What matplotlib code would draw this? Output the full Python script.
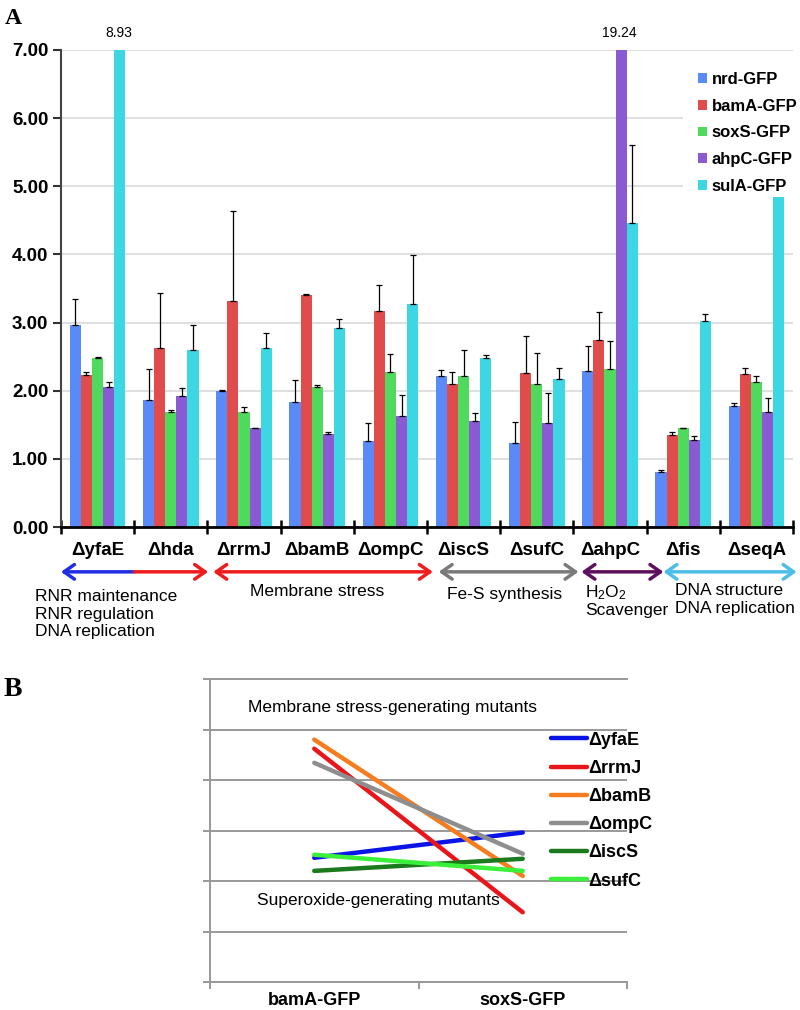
import numpy as np
import matplotlib
matplotlib.use('Agg')
import matplotlib.pyplot as plt
from matplotlib.patches import Patch

plt.rcParams['font.family'] = ['Liberation Sans', 'DejaVu Sans']
plt.rcParams['mathtext.fontset'] = 'custom'
plt.rcParams['mathtext.rm'] = 'Liberation Sans'
plt.rcParams['mathtext.it'] = 'Liberation Sans'

# panel A data (fold change, upper SD; nan = no error bar shown)
mutants = ['ΔyfaE', 'Δhda', 'ΔrrmJ', 'ΔbamB', 'ΔompC', 'ΔiscS', 'ΔsufC', 'ΔahpC', 'Δfis', 'ΔseqA']
reporters = ['nrd-GFP', 'bamA-GFP', 'soxS-GFP', 'ahpC-GFP', 'sulA-GFP']
nrd = [2.96, 1.87, 2.00, 1.84, 1.26, 2.21, 1.24, 2.29, 0.81, 1.77]
bamA = [2.23, 2.63, 3.31, 3.40, 3.17, 2.10, 2.26, 2.75, 1.35, 2.25]
soxS = [2.48, 1.69, 1.69, 2.05, 2.27, 2.22, 2.10, 2.32, 1.45, 2.13]
ahpC = [2.06, 1.92, 1.45, 1.36, 1.63, 1.55, 1.53, 19.24, 1.28, 1.69]
sulA = [8.93, 2.60, 2.62, 2.92, 3.27, 2.48, 2.17, 4.46, 3.03, 4.85]
nrd_sd = [0.38, 0.45, 0.01, 0.32, 0.26, 0.09, 0.30, 0.36, 0.02, 0.05]
bamA_sd = [0.05, 0.81, 1.33, 0.02, 0.38, 0.18, 0.55, 0.41, 0.05, 0.08]
soxS_sd = [0.01, 0.02, 0.07, 0.03, 0.27, 0.38, 0.46, 0.41, 0.01, 0.09]
ahpC_sd = [0.07, 0.12, 0.01, 0.04, 0.30, 0.13, 0.43, np.nan, 0.06, 0.21]
sulA_sd = [np.nan, 0.36, 0.22, 0.13, 0.72, 0.04, 0.17, 1.14, 0.09, np.nan]
bar_colors = ['#5a8af7', '#e04b4b', '#4fd95d', '#8a5ad2', '#3dd6e3']

# panel B: bamA-GFP vs soxS-GFP for selected mutants
b_mutants = ['ΔyfaE', 'ΔrrmJ', 'ΔbamB', 'ΔompC', 'ΔiscS', 'ΔsufC']
b_categories = ['bamA-GFP', 'soxS-GFP']
b_colors = ['#0a14e6', '#e8161a', '#f57d1f', '#8e8e8e', '#1b7a1b', '#3af03a']

W, H = 800, 1010


def px(x, y):
    return x / W, 1 - y / H


fig = plt.figure(figsize=(8, 10.1), dpi=100)

# ---------------- panel A ----------------
axA = fig.add_axes([61 / W, 1 - 527 / H, 732 / W, 477 / H])
x = np.arange(len(mutants))
w = 0.152
series = [nrd, bamA, soxS, ahpC, sulA]
sds = [nrd_sd, bamA_sd, soxS_sd, ahpC_sd, sulA_sd]
for k in range(5):
    pos = x + (k - 2) * w
    vals = np.array(series[k])
    sd = np.array(sds[k])
    axA.bar(pos, vals, w, color=bar_colors[k], zorder=2)
    m = ~np.isnan(sd)
    axA.errorbar(pos[m], vals[m], yerr=[np.zeros(m.sum()), sd[m]], fmt='none',
                 ecolor='black', elinewidth=0.9, capsize=2.5, capthick=0.9, zorder=3)
    for p, v in zip(pos, vals):
        if v > 7:
            axA.annotate(f'{v:.2f}', (p, 7), xytext=(-1, 7), textcoords='offset points',
                         ha='center', va='bottom', fontsize=10, annotation_clip=False)

axA.set_ylim(0, 7)
axA.set_xlim(-0.5, len(mutants) - 0.5)
axA.set_yticks(range(8))
axA.set_yticklabels([f'{v:.2f}' for v in range(8)], fontweight='bold')
axA.yaxis.grid(True, color='#d9d9d9', lw=1.2)
axA.set_axisbelow(True)
axA.tick_params(axis='y', direction='out', length=6, width=1.5, color='#333333',
                labelsize=13.5, pad=3)
axA.set_xticks(x)
axA.set_xticklabels(mutants, fontweight='bold', fontsize=13.5)
axA.set_xticks(np.arange(-0.5, len(mutants), 1), minor=True)
axA.tick_params(axis='x', which='major', length=0, pad=11)
axA.tick_params(axis='x', which='minor', direction='inout', length=10, width=1.8, color='black')
for s in ['top', 'right']:
    axA.spines[s].set_visible(False)
axA.spines['left'].set_color('#444444')
axA.spines['left'].set_linewidth(1.5)
axA.spines['bottom'].set_linewidth(2)

leg = axA.legend([Patch(facecolor=c) for c in bar_colors], reporters, loc='upper left',
                 bbox_to_anchor=(0.85, 0.985), borderaxespad=0, borderpad=0.9,
                 handlelength=0.5, handleheight=0.5, handletextpad=0.3, labelspacing=0.7,
                 prop={'weight': 'bold', 'size': 12}, frameon=True, framealpha=1,
                 edgecolor='none', fancybox=False)
# legend box hides the grid but stays behind the bars
leg.set_zorder(1)

# group arrows under the x labels
ytr = axA.get_xaxis_transform()
ya = -0.094
arrows = [(0.5, -0.5, '#1f2fe0'), (0.5, 1.51, '#ee1c1c')]
for x0, x1, c in arrows:
    axA.annotate('', xy=(x1, ya), xytext=(x0, ya), xycoords=ytr, annotation_clip=False,
                 arrowprops=dict(arrowstyle='->, head_length=0.5, head_width=0.35', color=c,
                                 lw=2.5, mutation_scale=15, shrinkA=0, shrinkB=0))
spans = [(1.58, 4.58, '#ee1c1c'), (4.66, 6.57, '#7a7a7a'), (6.61, 7.73, '#5c0f5c'),
         (7.73, 9.55, '#4dbfe6')]
for x0, x1, c in spans:
    axA.annotate('', xy=(x1, ya), xytext=(x0, ya), xycoords=ytr, annotation_clip=False,
                 arrowprops=dict(arrowstyle='<->, head_length=0.5, head_width=0.35', color=c,
                                 lw=2.5, mutation_scale=15, shrinkA=0, shrinkB=0))

fs = 12.5
fig.text(*px(35, 589), 'RNR maintenance\nRNR regulation\nDNA replication', fontsize=fs,
         va='top', ha='left', linespacing=1.22)
fig.text(*px(317, 592), 'Membrane stress', fontsize=fs, va='center', ha='center')
fig.text(*px(505, 594), 'Fe-S synthesis', fontsize=fs, va='center', ha='center')
fig.text(*px(585, 583), 'H$_2$O$_2$\nScavenger', fontsize=fs, va='top', ha='left',
         linespacing=1.1)
fig.text(*px(675, 583), 'DNA structure\nDNA replication', fontsize=fs, va='top', ha='left',
         linespacing=1.22)

# ---------------- panel B ----------------
axB = fig.add_axes([210 / W, 28 / H, 417 / W, 303 / H])
idx = [mutants.index(mname) for mname in b_mutants]
for j, i in enumerate(idx):
    axB.plot([0, 1], [bamA[i], soxS[i]], color=b_colors[j], lw=3.2,
             solid_capstyle='round', label=b_mutants[j], zorder=3)
axB.set_xlim(-0.5, 1.5)
axB.set_ylim(1.0, 4.0)
axB.set_yticks(np.arange(1.0, 4.01, 0.5))
axB.set_yticklabels([])
axB.yaxis.grid(True, color='#999999', lw=1.4)
axB.tick_params(axis='y', direction='out', length=5, width=1.4, color='#999999')
axB.set_xticks([0, 1])
axB.set_xticklabels(b_categories, fontweight='bold', fontsize=13)
axB.set_xticks([-0.5, 0.5, 1.5], minor=True)
axB.tick_params(axis='x', which='major', length=0, pad=7)
axB.tick_params(axis='x', which='minor', direction='out', length=5, width=1.4, color='#999999')
axB.spines['right'].set_visible(False)
for s in ['top', 'left', 'bottom']:
    axB.spines[s].set_color('#999999')
    axB.spines[s].set_linewidth(1.4)

axB.text(-0.32, 3.72, 'Membrane stress-generating mutants', fontsize=fs, va='center')
axB.text(-0.275, 1.81, 'Superoxide-generating mutants', fontsize=fs, va='center')

axB.legend(loc='upper left', bbox_to_anchor=(0.80, 0.85), borderaxespad=0, frameon=False,
           handlelength=2.0, handletextpad=0.1, labelspacing=0.62,
           prop={'weight': 'bold', 'size': 13})

fig.text(*px(13, 18), 'A', family='Liberation Serif', fontweight='bold', fontsize=17,
         ha='center', va='center')
fig.text(*px(13, 689), 'B', family='Liberation Serif', fontweight='bold', fontsize=20,
         ha='center', va='center')

fig.savefig('out.png', dpi=100)
